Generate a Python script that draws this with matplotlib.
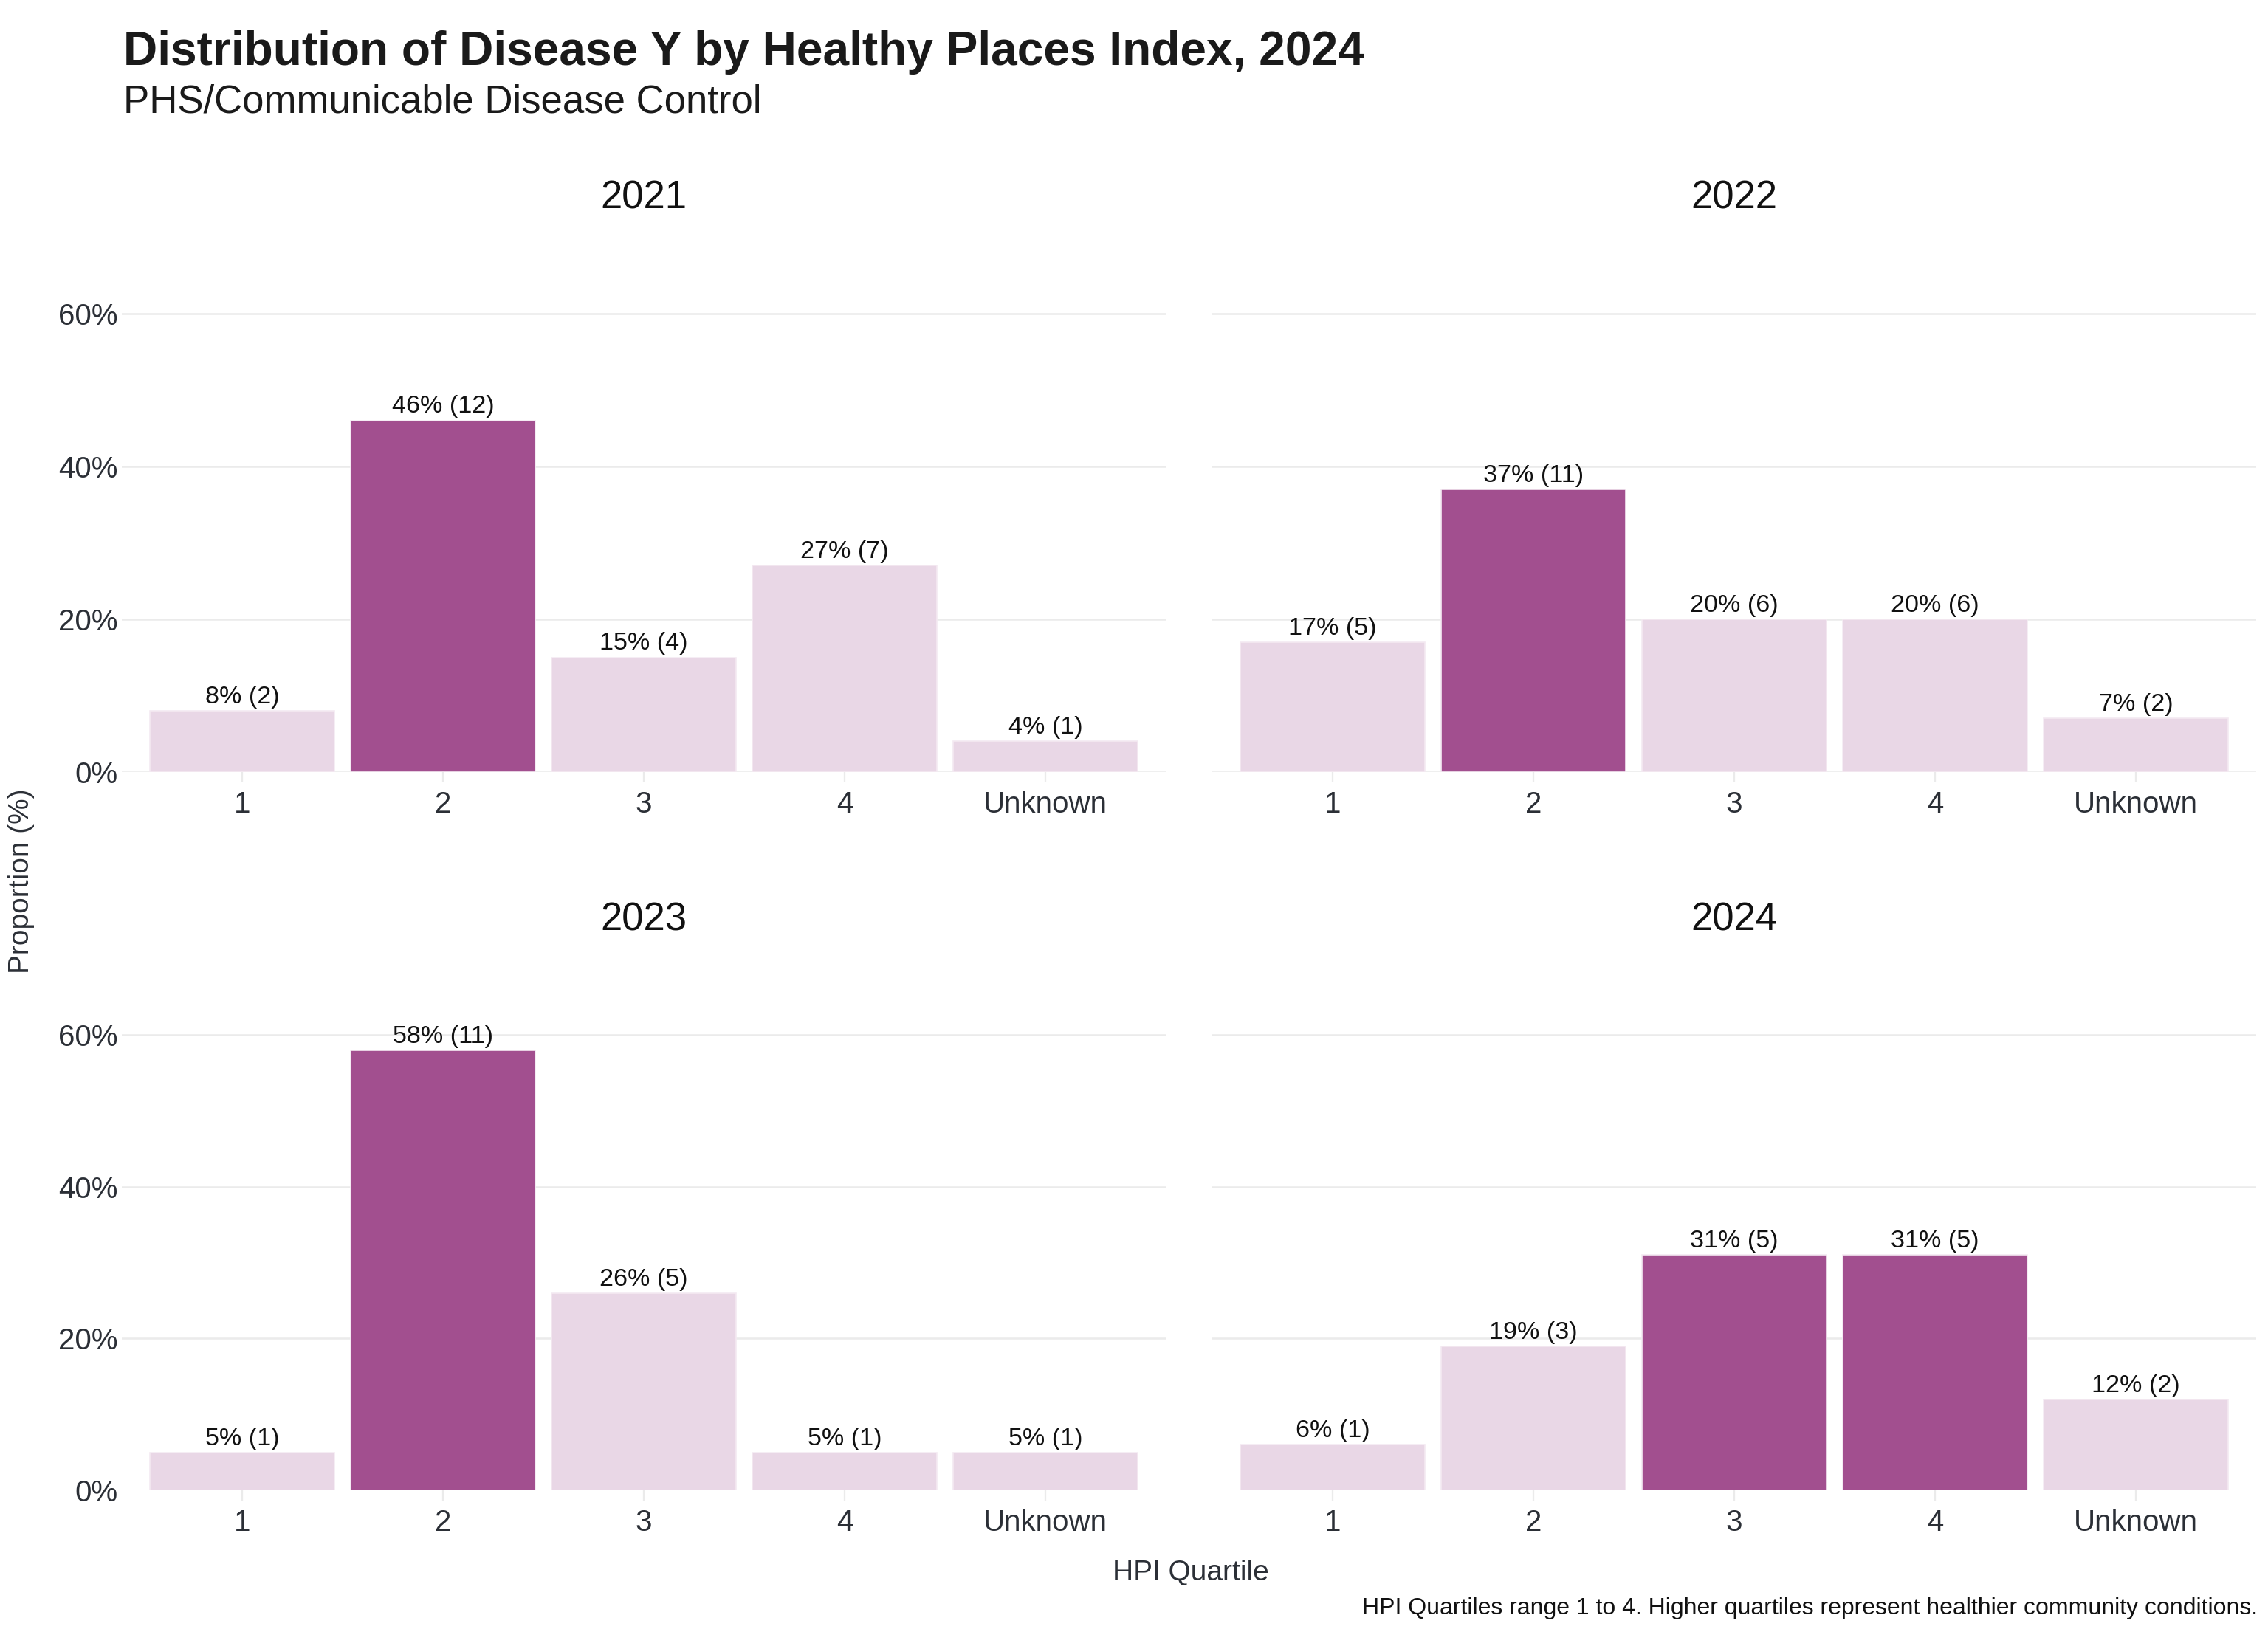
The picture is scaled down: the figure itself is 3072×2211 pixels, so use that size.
import matplotlib.pyplot as plt

years = ["2021", "2022", "2023", "2024"]
quartiles = ["1", "2", "3", "4", "Unknown"]
pct_2021 = [8, 46, 15, 27, 4]
cnt_2021 = [2, 12, 4, 7, 1]
pct_2022 = [17, 37, 20, 20, 7]
cnt_2022 = [5, 11, 6, 6, 2]
pct_2023 = [5, 58, 26, 5, 5]
cnt_2023 = [1, 11, 5, 1, 1]
pct_2024 = [6, 19, 31, 31, 12]
cnt_2024 = [1, 3, 5, 5, 2]
# highest proportion in each year is highlighted
highlight = [
  [False, True, False, False, False],
  [False, True, False, False, False],
  [False, True, False, False, False],
  [False, False, True, True, False],
]

DARK = "#A24F8F"
LIGHT = "#E9D7E6"
GRID = "#EBEBEB"
TXT = "#2B2F36"

plt.rcParams["font.family"] = ["Liberation Sans", "DejaVu Sans"]

fig = plt.figure(figsize=(15.36, 11.055), dpi=200)

panels = [
  (pct_2021, cnt_2021, [0.0536, 0.527, 0.4605, 0.295]),
  (pct_2022, cnt_2022, [0.5344, 0.527, 0.4605, 0.295]),
  (pct_2023, cnt_2023, [0.0536, 0.0868, 0.4605, 0.293]),
  (pct_2024, cnt_2024, [0.5344, 0.0868, 0.4605, 0.293]),
]

for i, (pct, cnt, rect) in enumerate(panels):
  ax = fig.add_axes(rect)
  x = list(range(len(quartiles)))
  colors = [DARK if h else LIGHT for h in highlight[i]]
  ax.bar(x, pct, width=0.92, color=colors, edgecolor="#F4EAF2", linewidth=0.6, zorder=2)
  for xi, p, c in zip(x, pct, cnt):
    ax.text(xi, p + 0.3, f"{p}% ({c})", ha="center", va="bottom", fontsize=12.3, color="#111111", zorder=3)
  ax.set_xlim(-0.6, 4.6)
  ax.set_ylim(0, 63)
  ax.set_xticks(x)
  ax.set_xticklabels(quartiles, fontsize=14.5, color=TXT)
  ax.set_yticks([0, 20, 40, 60])
  if i % 2 == 0:
    ax.set_yticklabels(["0%", "20%", "40%", "60%"], fontsize=14.5, color=TXT)
  else:
    ax.set_yticklabels([])
  ax.tick_params(axis="y", length=0, pad=2)
  ax.tick_params(axis="x", length=5, width=0.8, color=GRID, pad=4)
  ax.grid(axis="y", color=GRID, linewidth=0.9, zorder=0)
  ax.set_axisbelow(True)
  for s in ax.spines.values():
    s.set_visible(False)
  ax.set_title(years[i], fontsize=19, color="#111111", pad=40)

fig.text(0.0542, 0.96, "Distribution of Disease Y by Healthy Places Index, 2024",
         fontsize=23.05, fontweight="bold", color="#1A1A1A", ha="left", va="baseline")
fig.text(0.0542, 0.931, "PHS/Communicable Disease Control",
         fontsize=19, color="#1A1A1A", ha="left", va="baseline")
fig.text(0.0095, 0.46, "Proportion (%)", rotation=90, fontsize=14, color=TXT, ha="center", va="center")
fig.text(0.525, 0.036, "HPI Quartile", fontsize=14, color=TXT, ha="center", va="center")
fig.text(0.9955, 0.0145, "HPI Quartiles range 1 to 4. Higher quartiles represent healthier community conditions.",
         fontsize=11.5, color="#111111", ha="right", va="center")

fig.savefig("out.png", dpi=200, facecolor="white")
